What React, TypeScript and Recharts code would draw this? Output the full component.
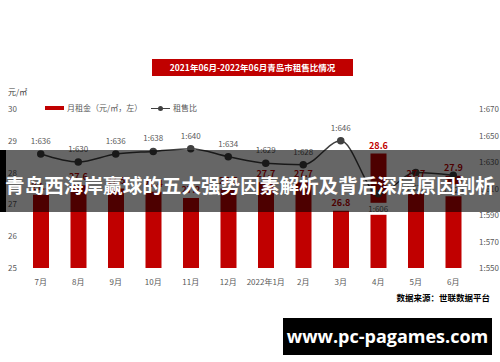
import { ComposedChart, Bar, Line, XAxis, YAxis, LabelList } from 'recharts';

// 月份
const months = ['7月', '8月', '9月', '10月', '11月', '12月', '2022年1月', '2月', '3月', '4月', '5月', '6月'];
// 月租金（元/㎡）
const rentValues = [27.3, 27.6, 27.5, 27.4, 27.2, 27.5, 27.7, 27.7, 26.8, 28.6, 27.7, 27.9];
// 租售比 1:x
const ratioValues = [636, 630, 636, 638, 640, 634, 629, 628, 646, 606, 622, 620];

const leftTicks = [25, 26, 27, 28, 29, 30];
const rightTicks = [550, 570, 590, 610, 630, 650, 670];

const chartData = months.map((m, i) => ({ month: m, rent: rentValues[i], ratio: ratioValues[i] }));

const FONT = '"Noto Sans CJK SC", "Noto Sans", sans-serif';
const RED = '#C00000';
const GREY = '#595959';

const LeftTick = ({ y, payload }: any) => (
  <text x={8} y={y} dy={3} fontSize={8} fill={GREY} fontFamily={FONT}>{payload.value}</text>
);

const RightTick = ({ y, payload }: any) => (
  <text x={479} y={y} dy={3} fontSize={8} fill={GREY} fontFamily={FONT}>{'1:' + payload.value}</text>
);

// 后三个月的标签放在点下方
const RatioLabel = (props: any) => {
  const { x, y, value, index } = props;
  const below = index >= 9;
  const ty = below ? y + 15 : y - 13;
  return (
    <g>
      {below && <rect x={x - 12} y={ty - 6} width={24} height={12} fill="#fff" />}
      <text x={x} y={ty} dy={3} textAnchor="middle" fontSize={8} fill={GREY} fontFamily={FONT}>
        {'1:' + value}
      </text>
    </g>
  );
};

export default function App() {
  return (
    <div style={{ position: 'absolute', left: 0, top: 0, width: 500, height: 362, background: '#fff', overflow: 'hidden', fontFamily: FONT }}>
      <div style={{ position: 'absolute', left: 152, top: 59, width: 201, height: 17, background: RED, color: '#fff', fontSize: 8.5, fontWeight: 'bold', lineHeight: '17px', textAlign: 'center' }}>
        2021年06月-2022年06月青岛市租售比情况
      </div>
      <div style={{ position: 'absolute', left: 8, top: 86, fontSize: 8, color: '#404040', lineHeight: '12px' }}>元/㎡</div>

      {/* 图例 */}
      <div style={{ position: 'absolute', left: 45, top: 106, width: 19, height: 4, background: RED }} />
      <div style={{ position: 'absolute', left: 67, top: 102, fontSize: 8, color: GREY, lineHeight: '12px' }}>月租金（元/㎡，左）</div>
      <div style={{ position: 'absolute', left: 151, top: 107.5, width: 19, height: 1.5, background: '#404040' }} />
      <div style={{ position: 'absolute', left: 158, top: 106, width: 5, height: 5, borderRadius: 3, background: '#404040' }} />
      <div style={{ position: 'absolute', left: 173, top: 102, fontSize: 8, color: GREY, lineHeight: '12px' }}>租售比</div>

      <div style={{ position: 'absolute', left: 0, top: 0 }}>
        <ComposedChart width={500} height={362} data={chartData} margin={{ top: 109, right: 0, bottom: 64, left: 0 }}>
          <XAxis dataKey="month" tickLine={false} axisLine={false} tickMargin={5} interval={0}
            tick={{ fontSize: 8, fill: GREY, fontFamily: FONT }} height={30} />
          <YAxis yAxisId="left" domain={[25, 30]} ticks={leftTicks} width={22} tickLine={false} axisLine={false} tick={<LeftTick />} allowDataOverflow />
          <YAxis yAxisId="right" orientation="right" domain={[550, 670]} ticks={rightTicks} width={28} tickLine={false} axisLine={false} tick={<RightTick />} />
          <Bar yAxisId="left" dataKey="rent" fill={RED} barSize={16} isAnimationActive={false}>
            <LabelList dataKey="rent" position="top" offset={5} fill={RED} fontSize={9} fontWeight="bold" fontFamily={FONT} />
          </Bar>
          <Line yAxisId="right" type="monotone" dataKey="ratio" stroke="#404040" strokeWidth={1.5}
            dot={{ r: 3, fill: '#404040', stroke: '#404040' }} isAnimationActive={false}>
            <LabelList dataKey="ratio" content={<RatioLabel />} />
          </Line>
        </ComposedChart>
      </div>

      <div style={{ position: 'absolute', right: 10, top: 291, fontSize: 8.5, fontWeight: 'bold', color: '#000', lineHeight: '12px' }}>数据来源：世联数据平台</div>

      {/* 覆盖横幅 */}
      <div style={{ position: 'absolute', left: 0, top: 150, width: 500, height: 62, background: 'rgba(0,0,0,0.6)' }} />
      <div style={{ position: 'absolute', left: 0, top: 150, width: 6, height: 62, background: '#000' }} />
      <div style={{ position: 'absolute', left: 0, top: 171, width: 500, textAlign: 'center', color: '#fff', fontSize: 19.6, fontWeight: 'bold', lineHeight: '28px', whiteSpace: 'nowrap' }}>
        青岛西海岸赢球的五大强势因素解析及背后深层原因剖析
      </div>

      <div style={{ position: 'absolute', left: 283, top: 318, width: 209, height: 37, background: '#000', color: '#fff', fontSize: 18, fontWeight: 'bold', lineHeight: '37px', textAlign: 'center', fontFamily: '"Open Sans", sans-serif' }}>
        www.pc-pagames.com
      </div>
    </div>
  );
}
